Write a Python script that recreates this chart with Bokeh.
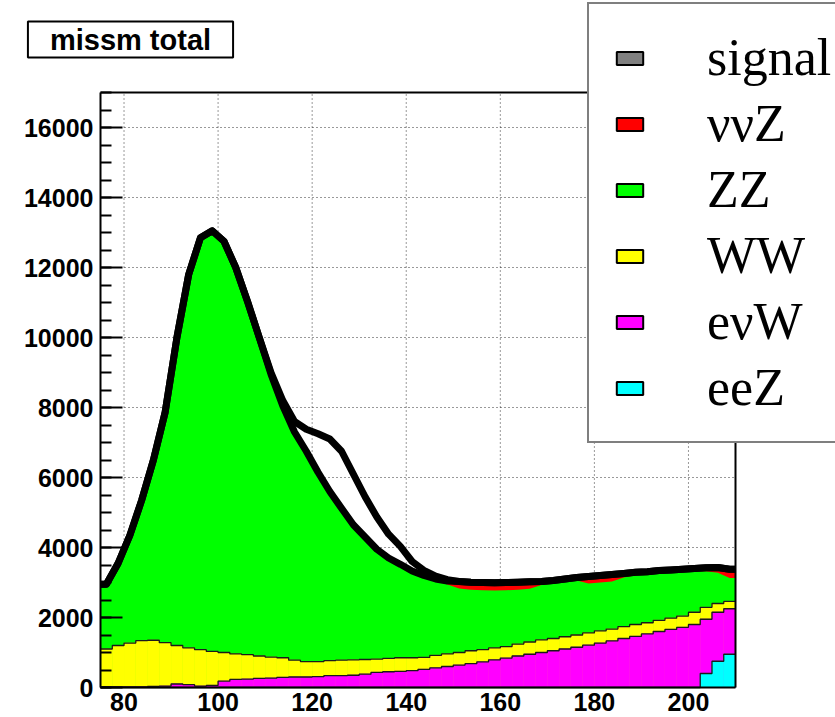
import numpy as np
from bokeh.plotting import figure
from bokeh.models import Range1d, SingleIntervalTicker, Legend, LegendItem, Label
from bokeh.embed import file_html
from bokeh.resources import INLINE

# ---- data (binned histogram contents, 2.5 GeV bins from 75 to 210) ----
x_lo, x_hi = 75.0, 210.0
y_lo, y_hi = 0.0, 17000.0
bin_width = 2.5

ee_z = [0] * 51 + [400, 750, 950]
enu_w = [20, 20, 20, 20, 30, 40, 100, 80, 40, 60, 180, 230, 240, 260, 270, 290, 300, 300,
         310, 340, 340, 350, 380, 430, 450, 460, 480, 520, 560, 600, 640, 680, 730, 790,
         840, 900, 950, 1000, 1050, 1100, 1150, 1210, 1270, 1330, 1400, 1460, 1530, 1600,
         1660, 1720, 1800, 1550, 1400, 1300]
ww = [1080, 1180, 1250, 1320, 1320, 1240, 1100, 1050, 1040, 970, 820, 730, 700, 640, 600,
      560, 480, 440, 430, 430, 440, 440, 420, 380, 380, 390, 370, 340, 360, 360, 360, 370,
      350, 340, 330, 340, 350, 360, 350, 350, 350, 350, 350, 340, 340, 340, 320, 320, 320,
      320, 350, 340, 250, 210]
zz = [1790, 2290, 3020, 3950, 5090, 6530, 8740, 10610, 11710, 11960, 11690, 10980, 10030,
      9040, 8020, 7140, 6460, 5950, 5350, 4770, 4280, 3800, 3440, 3080, 2810, 2610, 2420,
      2280, 2120, 1980, 1830, 1740, 1700, 1640, 1610, 1550, 1520, 1570, 1580, 1570, 1560,
      1410, 1380, 1360, 1400, 1410, 1380, 1340, 1300, 1260, 1170, 1030, 880, 670]
nunu_z = [60] * 29 + [100, 200, 220, 220, 220, 220, 220, 200, 100, 80, 80, 80, 200, 200,
                      200, 120, 80, 80, 80, 80, 80, 80, 100, 150, 250]
signal = [0] * 14 + [50, 150, 300, 630, 1100, 1500, 1630, 1450, 1150, 920, 680, 510, 270,
                     150, 80, 40] + [0] * 24

legend_labels = ["signal", "\u03bd\u03bdZ", "ZZ", "WW", "e\u03bdW", "eeZ"]
legend_colors = ["#808080", "#ff0000", "#00ff00", "#ffff00", "#ff00ff", "#00ffff"]

x_ticks = [80, 100, 120, 140, 160, 180, 200]
y_ticks = [0, 2000, 4000, 6000, 8000, 10000, 12000, 14000, 16000]

# ---- layout geometry (pixels) ----
W, H = 835, 717
frame_left, frame_right, frame_top, frame_bottom = 100, 735, 92, 687
px_per_x = (frame_right - frame_left) / (x_hi - x_lo)
px_per_y = (frame_bottom - frame_top) / (y_hi - y_lo)
# the bokeh frame is stretched over the whole canvas so that the legend, the title box
# and the axis labels can sit around the drawn plot box without being clipped
view_x_lo = x_lo - frame_left / px_per_x
view_x_hi = x_hi + (W - frame_right) / px_per_x
view_y_lo = y_lo - (H - frame_bottom) / px_per_y
view_y_hi = y_hi + frame_top / px_per_y

p = figure(width=W, height=H, x_range=Range1d(view_x_lo, view_x_hi),
           y_range=Range1d(view_y_lo, view_y_hi), output_backend="svg",
           toolbar_location=None, min_border_left=0, min_border_right=0, min_border_top=0,
           min_border_bottom=0)
p.background_fill_color = "white"
p.border_fill_color = "white"
p.outline_line_color = None
p.xgrid.visible = False
p.ygrid.visible = False

n = len(zz)
edges = x_lo + bin_width * np.arange(n + 1)
lefts, rights = edges[:-1], edges[1:]
centers = 0.5 * (lefts + rights)

cum_ee = np.array(ee_z, float)
cum_enuw = cum_ee + np.array(enu_w, float)
cum_ww = cum_enuw + np.array(ww, float)
cum_zz = cum_ww + np.array(zz, float)
cum_nnz = cum_zz + np.array(nunu_z, float)
full_total = cum_nnz + np.array(signal, float)

def smooth_xy(vals):
    # polyline through bin centres, held flat over the outer half bins
    return (np.concatenate([[x_lo], centers, [x_hi]]),
            np.concatenate([[vals[0]], vals, [vals[-1]]]))

def step_y(vals):
    return np.append(vals, vals[-1])

# dotted grid inside the plot box
gx = list(x_ticks)
p.segment(x0=gx, y0=[y_lo] * len(gx), x1=gx, y1=[y_hi] * len(gx), line_color="black",
          line_dash="1 3", line_width=1, line_alpha=0.8, level="underlay")
gy = [t for t in y_ticks if t > y_lo]
p.segment(x0=[x_lo] * len(gy), y0=gy, x1=[x_hi] * len(gy), y1=gy, line_color="black",
          line_dash="1 3", line_width=1, line_alpha=0.8, level="underlay")

# upper (smooth) layers drawn first, stepped lower layers on top of them
xs, ys = smooth_xy(cum_nnz)
p.varea(x=xs, y1=0, y2=ys, fill_color="#ff0000")
xs, ys = smooth_xy(cum_zz)
p.varea(x=xs, y1=0, y2=ys, fill_color="#00ff00")
for cum, col in [(cum_ww, "#ffff00"), (cum_enuw, "#ff00ff"), (cum_ee, "#00ffff")]:
    p.quad(left=lefts, right=rights, bottom=0, top=cum, fill_color=col,
           line_color=col, line_width=0.6)
for cum in (cum_ww, cum_enuw, cum_ee):
    p.step(x=edges, y=step_y(cum), mode="after", line_color="#1a1a1a", line_width=1.3)

xs, ys = smooth_xy(cum_nnz)
p.line(x=xs, y=ys, line_color="black", line_width=7, line_join="round")
xs, ys = smooth_xy(full_total)
p.line(x=xs, y=ys, line_color="black", line_width=7, line_join="round")

# top and right sides of the plot box
p.line(x=[x_lo, x_hi, x_hi], y=[y_hi, y_hi, y_lo], line_color="black", line_width=2)

# ---- axes (pinned to the plot box edges) ----
p.xaxis.ticker = SingleIntervalTicker(interval=x_ticks[1] - x_ticks[0], num_minor_ticks=0)
p.yaxis.ticker = SingleIntervalTicker(interval=y_ticks[1] - y_ticks[0], num_minor_ticks=4)
p.xaxis.bounds = (x_lo, x_hi)
p.yaxis.bounds = (y_lo, y_hi)
p.xaxis.fixed_location = y_lo
p.yaxis.fixed_location = x_lo
for ax in (p.xaxis, p.yaxis):
    ax.axis_line_width = 2
    ax.axis_line_color = "black"
    ax.major_label_text_font = "Liberation Sans"
    ax.major_label_text_font_style = "bold"
    ax.major_label_text_font_size = "25px"
    ax.major_label_text_color = "black"
p.xaxis.major_tick_in = 0
p.xaxis.major_tick_out = 0
p.xaxis.minor_tick_in = 0
p.xaxis.minor_tick_out = 0
p.xaxis.major_label_standoff = 5
p.yaxis.major_tick_in = 22
p.yaxis.major_tick_out = 0
p.yaxis.minor_tick_in = 11
p.yaxis.minor_tick_out = 0
p.yaxis.major_tick_line_width = 2
p.yaxis.minor_tick_line_width = 2
p.yaxis.major_label_standoff = 7

# ---- legend (swatch renderers lie outside the visible x range) ----
items = []
for lab, col in zip(legend_labels, legend_colors):
    r = p.quad(left=[-10], right=[-9], top=[1], bottom=[0], fill_color=col,
               line_color="black", line_width=2)
    items.append(LegendItem(label=lab, renderers=[r]))
legend = Legend(items=items, location=(587, H - 443), padding=24,
                spacing=7, glyph_width=33, glyph_height=16, label_standoff=61,
                label_text_font="Liberation Serif", label_text_font_size="52px",
                label_text_color="black", border_line_color="black", border_line_width=2,
                background_fill_color="white", background_fill_alpha=1.0)
p.add_layout(legend)

# ---- title box ----
title = Label(x=130, y=H - 39, x_units="screen", y_units="screen",
              text="missm total", text_font="Liberation Sans", text_font_style="bold",
              text_font_size="29px", text_align="center", text_baseline="middle",
              text_color="black", border_line_color="black", border_line_width=2,
              background_fill_color="white", background_fill_alpha=1.0,
              padding={"left": 22, "right": 22, "top": 2, "bottom": 2})
p.add_layout(title)

open("out.html", "w").write(file_html(p, INLINE))
